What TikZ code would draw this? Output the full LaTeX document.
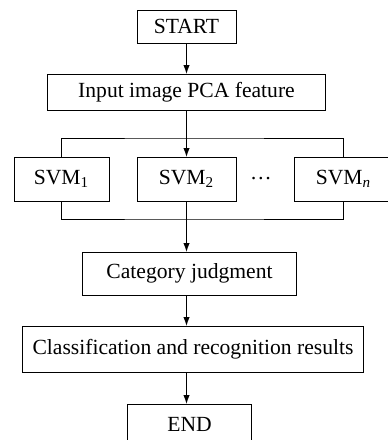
\documentclass[tikz,border=0pt]{standalone}
\usepackage{fontspec}
\setmainfont{Liberation Serif}
\usetikzlibrary{arrows.meta,positioning,calc}

\begin{document}
\begin{tikzpicture}[
    font=\fontsize{10.8}{12}\selectfont,
    box/.style={draw, line width=0.5pt, align=center, inner sep=2pt, outer sep=0pt, minimum height=22pt},
    line/.style={line width=0.5pt},
    arr/.style={-{Latex[length=4.5pt,width=3.2pt]}, line width=0.5pt},
]
\useasboundingbox (0,0) rectangle (193.5pt,-220pt);

\node[box, minimum width=49.5pt, minimum height=16.5pt] (start) at (93.25pt,-13.25pt) {START};
\node[box, below=15.5pt of start, minimum width=139pt, minimum height=18pt] (input) {Input image PCA feature};

\node[box, below=23.5pt of input, minimum width=49.5pt] (svm2) {SVM\textsubscript{2}};
\node[box, left=14pt of svm2, minimum width=47.5pt] (svm1) {SVM\textsubscript{1}};
\node[box, right=29pt of svm2, minimum width=49.5pt] (svmn) {SVM\textsubscript{\textit{n}}};
\node (dots) at ($(svm2.east)!0.43!(svmn.west)$) {\dots};

\node[box, below=25.5pt of svm2, xshift=1.5pt, minimum width=107pt, minimum height=21.5pt] (judge) {Category judgment};
\node[box, below=15.5pt of judge, xshift=1.75pt, minimum width=170.5pt, minimum height=23pt] (result) {Classification and recognition results};
\node[box, below=16pt of result, xshift=-1.75pt, minimum width=62pt, minimum height=20pt] (end) {END};

\draw[arr] (start) -- (input);
\draw[arr] (input) -- (svm2);
\coordinate[below=14pt of input.south] (topbus);
\draw[line] (svm1.north) |- (topbus) -| (svmn.north);
\coordinate[below=9pt of svm2.south] (lowbus);
\draw[line] (svm1.south) |- (lowbus) -| (svmn.south);
\draw[arr] (svm2.south) -- (svm2.south |- judge.north);
\draw[arr] (svm2.south |- judge.south) -- (svm2.south |- result.north);
\draw[arr] (svm2.south |- result.south) -- (svm2.south |- end.north);
\end{tikzpicture}
\end{document}
